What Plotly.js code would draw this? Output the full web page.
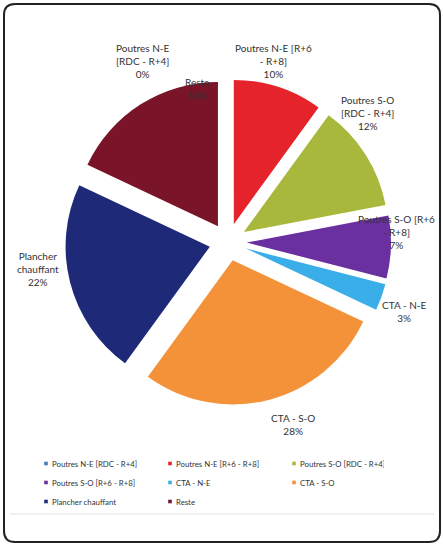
<!DOCTYPE html>
<html>
<head>
<meta charset="utf-8">
<script src="https://cdn.plot.ly/plotly-3.0.1.min.js"></script>
<style>
  html, body { margin: 0; padding: 0; background: #ffffff; }
  #chart { width: 443px; height: 545px; }
  path.legendpie { transform: translate(34px, 0px) scale(0.3) !important; }
</style>
</head>
<body>
<div id="chart"></div>
<script>
// Data
const categories = [
  "Poutres N-E [RDC - R+4]",
  "Poutres N-E [R+6 - R+8]",
  "Poutres S-O [RDC - R+4]",
  "Poutres S-O [R+6 - R+8]",
  "CTA - N-E",
  "CTA - S-O",
  "Plancher chauffant",
  "Reste"
];
const percentages = [0, 10, 12, 7, 3, 28, 22, 18];
// label text as wrapped in the chart
const labelLines = [
  "Poutres N-E<br>[RDC - R+4]",
  "Poutres N-E [R+6<br>- R+8]",
  "Poutres S-O<br>[RDC - R+4]",
  "Poutres S-O [R+6<br>- R+8]",
  "CTA - N-E",
  "CTA - S-O",
  "Plancher<br>chauffant",
  "Reste"
];
const sliceColors = ["#4a78c0", "#e4232b", "#a8b83c", "#6a30a0", "#3aaee8", "#f4923a", "#1e2a78", "#7a1428"];

// Label positions (pixels) in the picture
const labelPos = [[143, 61], [273, 61], [367, 113], [396, 232], [404, 311], [293, 424], [38, 269], [197, 89]];

const W = 443, H = 545;
const annotations = categories.map((c, i) => ({
  text: labelLines[i] + "<br>" + percentages[i] + "%",
  x: labelPos[i][0] / W, y: 1 - labelPos[i][1] / H,
  xref: "paper", yref: "paper", showarrow: false,
  xanchor: "center", yanchor: "middle", align: "center",
  font: { family: "Lato, 'Open Sans', sans-serif", size: 10, color: "#333333" }
}));

const trace = {
  type: "pie",
  labels: categories,
  values: percentages,
  sort: false,
  direction: "clockwise",
  rotation: 0,
  pull: 0.13,
  textinfo: "none",
  hoverinfo: "label+percent",
  marker: { colors: sliceColors, line: { width: 0 } },
  domain: { x: [65 / W, 391 / W], y: [1 - 405 / H, 1 - 79 / H] },
  showlegend: true
};

const layout = {
  width: W, height: H,
  margin: { l: 0, r: 0, t: 0, b: 0 },
  paper_bgcolor: "#ffffff",
  showlegend: true,
  legend: {
    orientation: "h",
    x: 12 / W, xanchor: "left",
    y: 1 - 449 / H, yanchor: "top",
    entrywidth: 79, entrywidthmode: "pixels",
    itemwidth: 30,
    tracegroupgap: 0,
    font: { family: "Lato, 'Open Sans', sans-serif", size: 7.8, color: "#333333" },
    bgcolor: "rgba(0,0,0,0)"
  },
  annotations: annotations,
  shapes: [{
    type: "path", xref: "paper", yref: "paper",
    path: (function () {
      const x0 = 4 / W, x1 = 440 / W, y0 = 1 - 4 / H, y1 = 1 - 542 / H;
      const rx = 11 / W, ry = 11 / H;
      return `M ${x0 + rx} ${y0} L ${x1 - rx} ${y0} Q ${x1} ${y0} ${x1} ${y0 - ry} ` +
        `L ${x1} ${y1 + ry} Q ${x1} ${y1} ${x1 - rx} ${y1} L ${x0 + rx} ${y1} ` +
        `Q ${x0} ${y1} ${x0} ${y1 + ry} L ${x0} ${y0 - ry} Q ${x0} ${y0} ${x0 + rx} ${y0} Z`;
    })(),
    line: { color: "#222222", width: 2 }
  }, {
    type: "line", xref: "paper", yref: "paper",
    x0: 10 / W, x1: 434 / W, y0: 1 - 514 / H, y1: 1 - 514 / H,
    line: { color: "#e2e2e2", width: 1 }
  }]
};

Plotly.newPlot("chart", [trace], layout, { displayModeBar: false, staticPlot: true });
</script>
</body>
</html>
